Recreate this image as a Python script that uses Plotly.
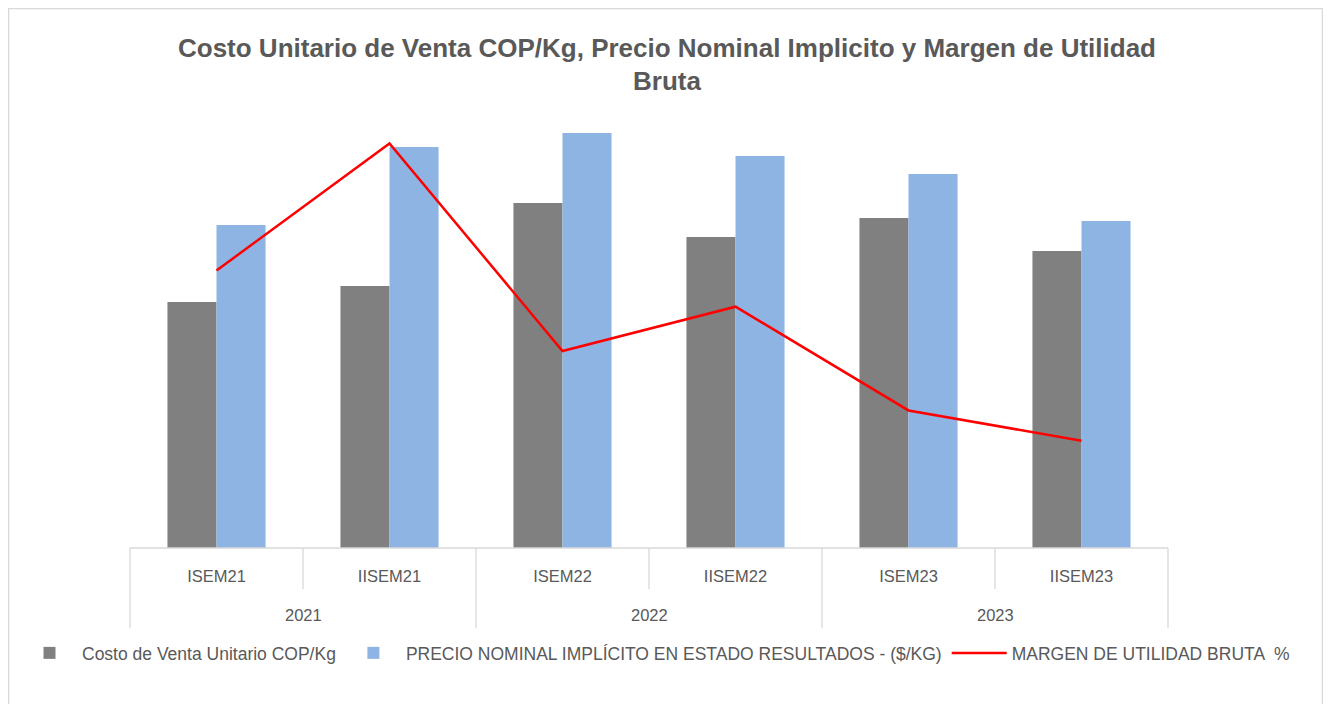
import plotly.graph_objects as go

semesters = ["ISEM21", "IISEM21", "ISEM22", "IISEM22", "ISEM23", "IISEM23"]
years = ["2021", "2022", "2023"]
year_of_semester = ["2021", "2021", "2022", "2022", "2023", "2023"]

costo = [2460, 2620, 3450, 3110, 3300, 2970]
precio = [3230, 4010, 4150, 3920, 3740, 3270]
margen = [0.238, 0.347, 0.169, 0.207, 0.118, 0.092]

name_costo = "Costo de Venta Unitario COP/Kg"
name_precio = "PRECIO NOMINAL IMPLÍCITO EN ESTADO RESULTADOS - ($/KG)"
name_margen = "MARGEN DE UTILIDAD BRUTA  %"

TXT = "#595959"
LINE = "#D9D9D9"
FONT = "Liberation Sans, Arial, sans-serif"

OFF = 8  # page body margin
W, H = 1331 - OFF, 704 - OFF


def fx(sx):
    return (sx - OFF) / W


def fy(sy):
    return 1 - (sy - OFF) / H


fig = go.Figure()
fig.add_trace(go.Bar(x=semesters, y=costo, name=name_costo, marker_color="#808080",
                     marker_line_width=0))
fig.add_trace(go.Bar(x=semesters, y=precio, name=name_precio, marker_color="#8EB4E3",
                     marker_line_width=0))
fig.add_trace(go.Scatter(x=semesters, y=margen, name=name_margen, mode="lines",
                         line=dict(color="#FF0000", width=2.5), yaxis="y2"))

shapes = []
n = len(semesters)
# axis baseline
shapes.append(dict(type="line", xref="x domain", yref="paper", x0=0, x1=1,
                   y0=fy(548), y1=fy(548), line=dict(color=LINE, width=1.3)))
# category / group boundaries
for k in range(n + 1):
    is_group = k == 0 or k == n or year_of_semester[k - 1] != year_of_semester[k]
    y_end = fy(628) if is_group else fy(589)
    shapes.append(dict(type="line", xref="x domain", yref="paper", x0=k / n, x1=k / n,
                       y0=fy(548), y1=y_end, line=dict(color=LINE, width=1.3)))
# outer border
shapes.append(dict(type="rect", xref="paper", yref="paper",
                   x0=0.6 / W, x1=fx(1322.5), y0=-0.01, y1=1 - 0.6 / H,
                   line=dict(color=LINE, width=1.5), fillcolor="rgba(0,0,0,0)", layer="below"))

annotations = []
for yr in years:
    idx = [i for i, s in enumerate(year_of_semester) if s == yr]
    xc = (idx[0] + idx[-1]) / 2
    annotations.append(dict(x=xc, y=fy(615), xref="x", yref="paper", text=yr,
                            showarrow=False, font=dict(size=16.5, color=TXT, family=FONT),
                            xanchor="center", yanchor="middle"))

fig.update_layout(
    width=W, height=H,
    margin=dict(l=0, r=0, t=0, b=0, pad=0),
    paper_bgcolor="white", plot_bgcolor="white",
    font=dict(family=FONT, color=TXT, size=16),
    title=dict(text="Costo Unitario de Venta COP/Kg, Precio Nominal Implicito y Margen de Utilidad<br>Bruta",
               xref="container", x=(667 - OFF) / W, xanchor="center",
               yref="container", y=1 - 48.5 / H, yanchor="middle",
               font=dict(size=26, color=TXT, family=FONT, weight="bold")),
    barmode="group", bargap=0.433, bargroupgap=0,
    xaxis=dict(type="category", domain=[fx(130), fx(1168)],
               showgrid=False, showline=False, zeroline=False, ticks="",
               tickfont=dict(size=16.5, color=TXT), ticklabelstandoff=16),
    yaxis=dict(range=[0, 4500], domain=[fy(548), fy(98)], visible=False, showgrid=False),
    yaxis2=dict(range=[0, 0.386], overlaying="y", side="right", visible=False, showgrid=False),
    legend=dict(orientation="h", xref="paper", yref="paper",
                x=fx(656), xanchor="center", y=fy(653), yanchor="middle",
                font=dict(size=17.5, color=TXT), traceorder="normal", itemwidth=55,
                bgcolor="rgba(0,0,0,0)"),
    shapes=shapes, annotations=annotations,
    showlegend=True,
)

fig.write_html("out.html")
